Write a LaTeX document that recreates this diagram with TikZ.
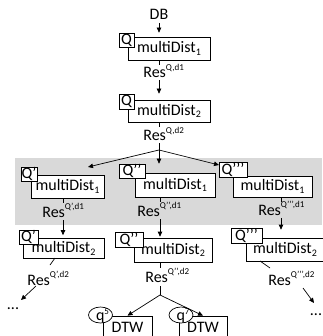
\documentclass[tikz,border=0pt]{standalone}
\usepackage{fontspec}
\setmainfont{Carlito}
\usetikzlibrary{arrows.meta,shapes.geometric}
\newcommand{\rsup}[1]{\raisebox{7.5pt}{\fontsize{9}{9}\selectfont #1}}
\newcommand{\rsub}[1]{\raisebox{-2.5pt}{\fontsize{10}{10}\selectfont #1}}
\newcommand{\qsup}[1]{\hspace*{4pt}\raisebox{-2pt}{q\raisebox{6pt}{\fontsize{9}{9}\selectfont #1}}}
\begin{document}
\begin{tikzpicture}[x=1pt,y=-1pt, line width=0.7pt,
  every node/.style={font=\fontsize{16}{19}\selectfont},
  mbox/.style={draw, fill=white, inner sep=0pt},
  qbox/.style={draw, fill=white, inner sep=0pt},
  lab/.style={inner sep=0pt, anchor=base west},
  dots/.style={inner sep=0pt, anchor=base},
  arr/.style={-{Triangle[length=5pt,width=4.5pt]}},
  ell/.style={draw, fill=white, ellipse, inner sep=0pt, text height=8pt, text depth=1pt}]
\useasboundingbox (0,0) rectangle (322,336);
\fill[black!15] (15,158) rectangle (322,225);

% column Q
\coordinate (b1) at (159,150);
\node (db) at (159,14) {DB};
\node[mbox, minimum width=82pt, minimum height=23pt] (m1) at (169,48.5) {multiDist\rsub{1}};
\node[qbox, minimum width=15pt, minimum height=14pt] (q1) at (126.5,40) {Q};
\node[lab] (r1) at (143,78) {Res\rsup{Q,d1}};
\node[mbox, minimum width=82pt, minimum height=22pt] (m2) at (169,111) {multiDist\rsub{2}};
\node[qbox, minimum width=15pt, minimum height=15pt] (q2) at (126.5,101.5) {Q};
\node[lab] (r2) at (143,141) {Res\rsup{Q,d2}};

% column Q'
\coordinate (xa) at (63,0);
\node[mbox, minimum width=73pt, minimum height=23pt] (ma1) at (67.5,186.5) {multiDist\rsub{1}};
\node[qbox, minimum width=16pt, minimum height=14pt] (qa1) at (29,174) {Q’};
\node[lab] (ra1) at (42,217) {Res\rsup{Q’,d1}};
\node[mbox, minimum width=81pt, minimum height=20pt] (ma2) at (63.5,248.5) {multiDist\rsub{2}};
\node[qbox, minimum width=19pt, minimum height=14pt] (qa2) at (28.5,237) {Q’};
\node[lab] (ra2) at (27,285) {Res\rsup{Q’,d2}};
\node[dots] (dA) at (13,309) {...};
\coordinate (a2s) at (55,258);
\coordinate (a2e) at (50,265);
\coordinate (a2f) at (36,286);
\coordinate (a2t) at (21,300);
\coordinate (tA) at (88,167);

% column Q''
\coordinate (xb) at (160,0);
\coordinate (b2) at (160,295);
\node[mbox, minimum width=80pt, minimum height=24pt] (mb1) at (175,185) {multiDist\rsub{1}};
\node[qbox, minimum width=26pt, minimum height=14pt] (qb1) at (132,171) {Q’’};
\node[lab] (rb1) at (137,216) {Res\rsup{Q’’,d1}};
\node[mbox, minimum width=78pt, minimum height=24pt] (mb2) at (173,250) {multiDist\rsub{2}};
\node[qbox, minimum width=28pt, minimum height=15pt] (qb2) at (129,239.5) {Q’’};
\node[lab] (rb2) at (145,282) {Res\rsup{Q’’,d2}};
\node[mbox, minimum width=49pt, minimum height=22pt] (d5) at (127.5,327) {DTW};
\node[ell, minimum width=23pt, minimum height=16pt] (e5) at (100.5,315) {\qsup{5}};
\node[mbox, minimum width=48pt, minimum height=22pt] (d7) at (203,327) {DTW};
\node[ell, minimum width=24pt, minimum height=16pt] (e7) at (181,315) {\qsup{7}};

% column Q'''
\coordinate (xc) at (281,0);
\coordinate (tC) at (219,165);
\node[mbox, minimum width=79pt, minimum height=21pt] (mc1) at (272.5,186.5) {multiDist\rsub{1}};
\node[qbox, minimum width=28pt, minimum height=15pt] (qc1) at (233,169.5) {Q’’’};
\node[lab] (rc1) at (258,215) {Res\rsup{Q’’’,d1}};
\node[mbox, minimum width=78pt, minimum height=23pt] (mc2) at (285,249.5) {multiDist\rsub{2}};
\node[qbox, minimum width=31pt, minimum height=15pt] (qc2) at (246.5,235.5) {Q’’’};
\node[lab] (rc2) at (268,285) {Res\rsup{Q’’’,d2}};
\node[dots] (dC) at (316,315) {...};
\coordinate (c2s) at (260,261);
\coordinate (c2e) at (270,268);
\coordinate (c2f) at (303,288);
\coordinate (c2t) at (314,303);

% connectors column Q
\draw[arr] (db.south) -- (db.south |- q1.north);
\draw (m1.south -| b1) -- ++(0,5);
\draw[arr, shorten <=2pt] (r1.south -| b1) -- (q2.north -| b1);
\draw (m2.south -| b1) -- ++(0,5);
\draw[shorten <=2pt] (r2.south -| b1) -- (b1);
\draw[arr] (b1) -- (tA);
\draw[arr] (b1) -- (b1 |- qb1.north);
\draw[arr] (b1) -- (tC);

% column Q'
\draw (ma1.south -| xa) -- ++(0,5);
\draw[arr, shorten <=3pt, shorten >=3pt] (ra1.south -| xa) -- (ma2.north -| xa);
\draw (a2s) -- (a2e);
\draw[arr] (a2f) -- (a2t);

% column Q''
\draw (mb1.south -| xb) -- ++(0,5);
\draw[arr, shorten <=3pt, shorten >=1pt] (rb1.south -| xb) -- (mb2.north -| xb);
\draw (mb2.south -| xb) -- ++(0,6);
\draw[shorten <=4pt] (rb2.south -| xb) -- (b2);
\draw[arr] (b2) -- (d5.north);
\draw[arr] (b2) -- (d7.north);

% column Q'''
\draw (mc1.south -| xc) -- ++(0,5);
\draw[arr, shorten <=3pt, shorten >=8pt] (rc1.south -| xc) -- (mc2.north -| xc);
\draw (c2s) -- (c2e);
\draw[arr] (c2f) -- (c2t);
\end{tikzpicture}
\end{document}
